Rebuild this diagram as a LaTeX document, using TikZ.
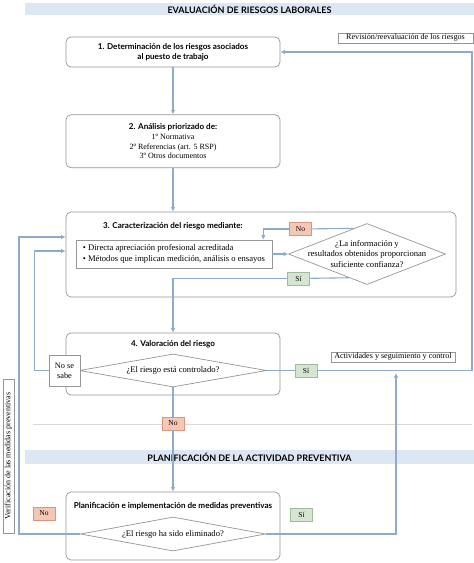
\documentclass[tikz,border=0pt]{standalone}
\usepackage{fontspec}
\setmainfont{Liberation Serif}
\newfontfamily\titulofont{Lato}
\usetikzlibrary{shapes.geometric,positioning,calc,arrows.meta}

\definecolor{flujo}{RGB}{140,172,202}
\definecolor{borde}{RGB}{150,150,150}
\definecolor{banda}{RGB}{221,231,244}
\definecolor{rojizo}{RGB}{246,200,180}
\definecolor{rojizoborde}{RGB}{214,150,128}
\definecolor{verdoso}{RGB}{214,229,209}
\definecolor{verdosoborde}{RGB}{160,186,156}

\begin{document}
\begin{tikzpicture}[x=1pt,y=-1pt,
	caja/.style={draw=borde,rounded corners=5pt,line width=0.7pt,fill=white,minimum width=214pt},
	pregunta/.style={draw=borde,diamond,line width=0.7pt,inner sep=0pt,fill=white},
	etiqueta/.style={draw=borde,line width=0.5pt,inner sep=0pt,fill=white,font=\fontsize{8.1}{10}\selectfont},
	titulo/.style={font=\titulofont\bfseries\fontsize{8.1}{10.5}\selectfont,align=center},
	texto/.style={font=\fontsize{8.6}{10.5}\selectfont,align=center},
	banda/.style={fill=banda,minimum width=449pt,inner sep=0pt,font=\titulofont\bfseries\fontsize{9}{10}\selectfont},
	respno/.style={draw=rojizoborde,fill=rojizo,line width=0.5pt,minimum width=22pt,minimum height=13pt,inner sep=0pt,font=\fontsize{7.5}{8}\selectfont},
	respsi/.style={draw=verdosoborde,fill=verdoso,line width=0.5pt,minimum width=22pt,minimum height=13pt,inner sep=0pt,font=\fontsize{7.5}{8}\selectfont},
	linea/.style={draw=flujo,line width=1.1pt},
	flecha/.style={linea,-{Latex[length=4.5pt,width=4.5pt]}},
	separador/.style={draw=black!15,line width=1pt}
]

	\useasboundingbox (0,0) rectangle (474,563);

	\node[banda,minimum height=12pt] (evaluacion) at (249.5,9) {EVALUACIÓN DE RIESGOS LABORALES};
	\node[banda,minimum height=14pt] (planificacion) at (249.5,457) {PLANIFICACIÓN DE LA ACTIVIDAD PREVENTIVA};
	\coordinate (sepizq) at (33,424);
	\coordinate (sepder) at (472,424);
	\draw[separador] (sepizq) -- (sepder);

	\node[caja,minimum height=30pt,titulo] (paso1) at (173,52) {1. Determinación de los riesgos asociados\\al puesto de trabajo};
	\node[caja,minimum height=53pt,texto,font=\fontsize{8}{9.5}\selectfont] (paso2) [below=47pt of paso1]
		{{\titulofont\bfseries\fontsize{8.1}{10}\selectfont 2. Análisis priorizado de:}\\[1pt]1º Normativa\\2º Referencias (art. 5 RSP)\\3º Otros documentos};

	\node[caja,minimum width=390pt,minimum height=85pt] (paso3) at (261,254.5) {};
	\node[titulo] (titulo3) at (173,226) {3. Caracterización del riesgo mediante:};
	\node[etiqueta,line width=0.6pt,minimum width=196pt,minimum height=28pt,texto,align=left] (metodos) at (174,254)
		{\textbullet\ Directa apreciación profesional acreditada\\\textbullet\ Métodos que implican medición, análisis o ensayos};
	\node[pregunta,minimum width=157pt,minimum height=61pt] (confianza) at (367,254) {};
	\node[texto] (confianzatexto) at (confianza) {¿La información y\\resultados obtenidos proporcionan\\suficiente confianza?};

	\node[caja,minimum height=62pt] (paso4) at (173,364) {};
	\node[titulo] (titulo4) at (173,344) {4. Valoración del riesgo};
	\node[pregunta,minimum width=187pt,minimum height=33pt] (controlado) at (173,370.5) {};
	\node[texto] (controladotexto) at (controlado) {¿El riesgo está controlado?};
	\node[etiqueta,minimum width=31pt,minimum height=31pt,texto,font=\fontsize{8.3}{10}\selectfont] (nosabe) at (64.5,370.5) {No se\\sabe};

	\node[caja,minimum height=68pt] (paso5) at (173,526) {};
	\node[titulo] (titulo5) at (173,506) {Planificación e implementación de medidas preventivas};
	\node[pregunta,minimum width=185pt,minimum height=34pt] (eliminado) at (173,534) {};
	\node[texto] (eliminadotexto) at (eliminado) {¿El riesgo ha sido eliminado?};

	\node[etiqueta,minimum width=135pt,minimum height=10pt] (revision) at (405.5,38) {Revisión/reevaluación de los riesgos};
	\node[etiqueta,minimum width=124pt,minimum height=10pt] (actividades) at (393,357) {Actividades y seguimiento y control};
	\node[etiqueta,rotate=90,minimum width=154pt,minimum height=11pt,font=\fontsize{8}{10}\selectfont] (verificacion) at (8.5,456) {Verificación de las medidas preventivas};

	\node[respno] (no1) at (300.5,229) {No};
	\node[respsi] (si1) at (298.5,278.5) {Sí};
	\node[respsi] (si2) at (306,370.5) {Sí};
	\node[respno] (no2) at (173,423.5) {No};
	\node[respno] (no3) at (44,513.5) {No};
	\node[respsi] (si3) at (301.5,515) {Sí};

	\coordinate (retorno) at (472,370.5);
	\coordinate (vuelta) at (19,534);
	\coordinate (union) at (396,373);

	\draw[flecha] (paso1) -- (paso2);
	\draw[flecha] (paso2) -- (paso2 |- paso3.north);
	\draw[flecha] (metodos) -- (confianza);
	\draw[linea] ($(confianza.north)!0.17!(confianza.west)$) -- (no1);
	\draw[flecha] (no1) -| ([xshift=-9pt]metodos.north east);
	\draw[linea] ($(confianza.west)!0.77!(confianza.south)$) -- (si1);
	\draw[flecha] (si1) -| (paso4);
	\draw[flecha] (nosabe.west) -- ++(-14.5,0) |- ([yshift=3.5pt]paso3.west);
	\draw[linea] (controlado.east) -- (si2);
	\draw[flecha] (si2) -- (retorno) |- (paso1);
	\draw[linea] (controlado.south) -- (no2);
	\draw[flecha] (no2) -- (paso5);
	\draw[flecha] (eliminado.west) -- (vuelta) |- ([yshift=17.5pt]paso3.west);
	\draw[flecha] (eliminado.east) -| (union);

\end{tikzpicture}
\end{document}
